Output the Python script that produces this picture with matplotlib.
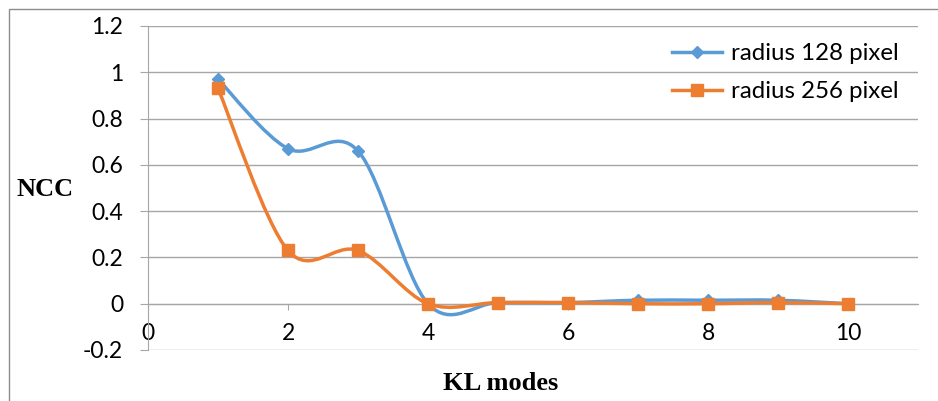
import matplotlib
matplotlib.use("Agg")
import matplotlib.pyplot as plt
from matplotlib.path import Path
from matplotlib.patches import PathPatch, Rectangle
from matplotlib.lines import Line2D
import numpy as np

modes = [1, 2, 3, 4, 5, 6, 7, 8, 9, 10]
ncc_128 = [0.97, 0.67, 0.66, 0.0, 0.005, 0.005, 0.015, 0.015, 0.015, 0.0]
ncc_256 = [0.93, 0.23, 0.23, 0.0, 0.005, 0.005, 0.0, 0.0, 0.005, 0.0]

BLUE = "#5B9BD5"
ORANGE = "#ED7D31"
GRID = "#A6A6A6"


def smooth_path(xs, ys):
    # catmull-rom style bezier through the points, like spreadsheet "smoothed lines"
    p = np.column_stack([xs, ys]).astype(float)
    n = len(p)
    verts = [p[0]]
    codes = [Path.MOVETO]
    for i in range(n - 1):
        p0 = p[i - 1] if i > 0 else p[i]
        p1 = p[i]
        p2 = p[i + 1]
        p3 = p[i + 2] if i + 2 < n else p[i + 1]
        c1 = p1 + (p2 - p0) / 6.0
        c2 = p2 - (p3 - p1) / 6.0
        verts += [c1, c2, p2]
        codes += [Path.CURVE4] * 3
    return Path(verts, codes)


plt.rcParams['font.family'] = ['Lato', 'DejaVu Sans']
fig = plt.figure(figsize=(9.38, 4.01), dpi=100)
fig.patches.append(Rectangle((9 / 938, -0.1), 1.2, 1 - 9 / 401 + 0.1,
                             transform=fig.transFigure, fill=False,
                             edgecolor="#8C8C8C", linewidth=1.0))
ax = fig.add_axes([148 / 938, 1 - 350 / 401, (918 - 148) / 938, (350 - 26) / 401])

ax.set_xlim(0, 11)
ax.set_ylim(-0.2, 1.2)
yt = np.round(np.arange(-0.2, 1.21, 0.2), 1)
ax.set_yticks(yt)
ax.set_yticklabels([f"{v:g}" for v in yt])
ax.set_xticks([0, 2, 4, 6, 8, 10])
for v in yt:
    ax.axhline(v, color=GRID, linewidth=1.0, zorder=0)

for s in ["top", "right"]:
    ax.spines[s].set_visible(False)
ax.spines["left"].set_color(GRID)
ax.spines["left"].set_position(("data", 0))
# x ticks and labels hang off the zero line
ax.spines["bottom"].set_position(("data", 0))
ax.spines["bottom"].set_color(GRID)
ax.tick_params(axis="y", length=6, color=GRID, labelsize=16.5, pad=12)
ax.tick_params(axis="x", length=4, color=GRID, labelsize=16.5, direction="out", pad=10)

for ys, col, mk, ms in [(ncc_128, BLUE, "D", 6.5), (ncc_256, ORANGE, "s", 8)]:
    ax.add_patch(PathPatch(smooth_path(modes, ys), facecolor="none",
                           edgecolor=col, linewidth=2.5, zorder=3))
    ax.plot(modes, ys, linestyle="none", marker=mk, markersize=ms,
            color=col, zorder=4)

handles = [Line2D([], [], color=BLUE, linewidth=2.5, marker="D", markersize=6.5),
           Line2D([], [], color=ORANGE, linewidth=2.5, marker="s", markersize=8)]
ax.legend(handles, ["radius 128 pixel", "radius 256 pixel"], loc="upper left",
          bbox_to_anchor=(672 / 938, 1 - 43 / 401), bbox_transform=fig.transFigure,
          frameon=False, fontsize=17.3, borderpad=0, borderaxespad=0,
          handlelength=2.1, labelspacing=0.72, handletextpad=0.35)

fig.text(45 / 938, 1 - 190 / 401, "NCC", family="Liberation Serif",
         fontweight="bold", fontsize=19, ha="center", va="center")
fig.text(501 / 938, 1 - 383 / 401, "KL modes", family="Liberation Serif",
         fontweight="bold", fontsize=19, ha="center", va="center")

fig.savefig("out.png", dpi=100)
